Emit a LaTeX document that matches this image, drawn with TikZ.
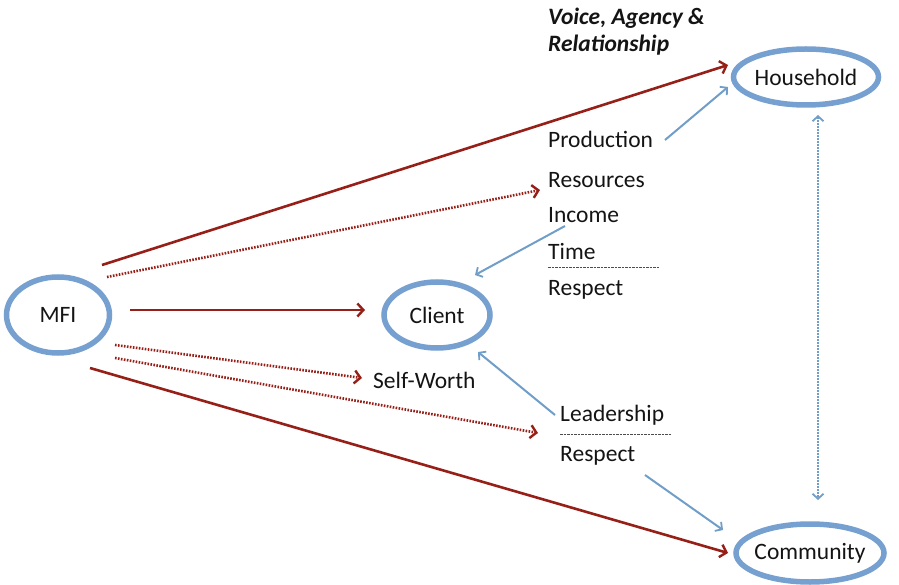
\documentclass[tikz,border=0pt]{standalone}
\usepackage{fontspec}
\setmainfont{Carlito}
\usetikzlibrary{shapes.geometric,arrows.meta,calc}

\definecolor{ringblue}{RGB}{118,160,208}
\definecolor{linkblue}{RGB}{112,158,200}
\definecolor{flowred}{RGB}{150,32,24}
\definecolor{labelgray}{RGB}{20,20,20}

\tikzset{
  ring/.style={ellipse, draw=ringblue, line width=5.5pt, inner sep=-6pt,
               font=\fontsize{23.5}{26}\selectfont, text=labelgray},
  lbl/.style={anchor=base west, inner sep=0pt,
              font=\fontsize{23.5}{26}\selectfont, text=labelgray},
  boldlbl/.style={lbl, font=\fontsize{23.5}{26}\selectfont\bfseries\itshape},
  redflow/.style={draw=flowred, line width=2.6pt,
                  -{Straight Barb[length=6pt,width=13pt,line width=2.4pt]}},
  reddots/.style={redflow, dash pattern=on 1.6pt off 1.4pt},
  bluelink/.style={draw=linkblue, line width=2pt,
                   -{Straight Barb[length=5pt,width=11pt,line width=1.8pt]}},
  bluedots/.style={draw=linkblue, line width=2pt, dash pattern=on 1.6pt off 1.4pt,
                   {Straight Barb[length=5pt,width=11pt,line width=1.8pt]}-{Straight Barb[length=5pt,width=11pt,line width=1.8pt]}},
  sepline/.style={draw=gray!60!black, line width=1pt, dash pattern=on 2.5pt off 1pt}
}

\begin{document}
\begin{tikzpicture}[x=1pt,y=-1pt]
  \useasboundingbox (0,0) rectangle (899,585);

  % actors
  \node[ring, minimum width=103pt, minimum height=76pt] (mfi) at (58,315) {MFI};
  \node[ring, minimum width=106pt, minimum height=66pt] (client) at (437,315) {Client};
  \node[ring, minimum width=145pt, minimum height=56pt] (hh) at (806,77) {Household};
  \node[ring, minimum width=148pt, minimum height=58pt] (comm) at (810,553) {Community};

  % labels
  \node[boldlbl] (voice) at (548,25) {Voice, Agency \&};
  \node[boldlbl] (rel) at (548,52) {Relationship};
  \node[lbl] (prod) at (548,148) {Production};
  \node[lbl] (res) at (548,188) {Resources};
  \node[lbl] (inc) at (548,223) {Income};
  \node[lbl] (time) at (548,259) {Time};
  \node[lbl] (resp1) at (548,295) {Respect};
  \node[lbl] (self) at (373,388) {Self-Worth};
  \node[lbl] (lead) at (560,421) {Leadership};
  \node[lbl] (resp2) at (560,461) {Respect};

  % separators between paired labels
  \coordinate (sepA1) at ([shift={(0,9)}]time.base west);
  \coordinate (sepA2) at ([shift={(112,9)}]time.base west);
  \coordinate (sepB1) at ([shift={(0,13)}]lead.base west);
  \coordinate (sepB2) at ([shift={(112,13)}]lead.base west);
  \draw[sepline] (sepA1) -- (sepA2);
  \draw[sepline] (sepB1) -- (sepB2);

  % flows out of the MFI
  \draw[redflow] ([shift={(44,-50)}]mfi.center) -- ([shift={(-78,-12)}]hh.center);
  \draw[reddots] ([shift={(49,-38)}]mfi.center) -- ([shift={(-8,2)}]res.base west);
  \draw[redflow] ([shift={(72,-5)}]mfi.center) -- ([shift={(-72,-5)}]client.center);
  \draw[reddots] ([shift={(57,30)}]mfi.center) -- ([shift={(-11,-10)}]self.base west);
  \draw[reddots] ([shift={(57,43)}]mfi.center) -- ([shift={(-22,-1)}]sepB1);
  \draw[redflow] ([shift={(32,53)}]mfi.center) -- ([shift={(-82,0)}]comm.center);

  % feedback links
  \draw[bluelink] ([shift={(117,-8)}]prod.base west) -- ([shift={(-78,10)}]hh.center);
  \draw[bluelink] ([shift={(17,3)}]inc.base west) -- ([shift={(38,-40)}]client.center);
  \draw[bluelink] ([shift={(-5,-6)}]lead.base west) -- ([shift={(41,37)}]client.center);
  \draw[bluelink] ([shift={(85,14)}]resp2.base west) -- ([shift={(-87,-23)}]comm.center);
  \draw[bluedots] ([shift={(12,38)}]hh.center) -- ([shift={(8,-53)}]comm.center);
\end{tikzpicture}
\end{document}
